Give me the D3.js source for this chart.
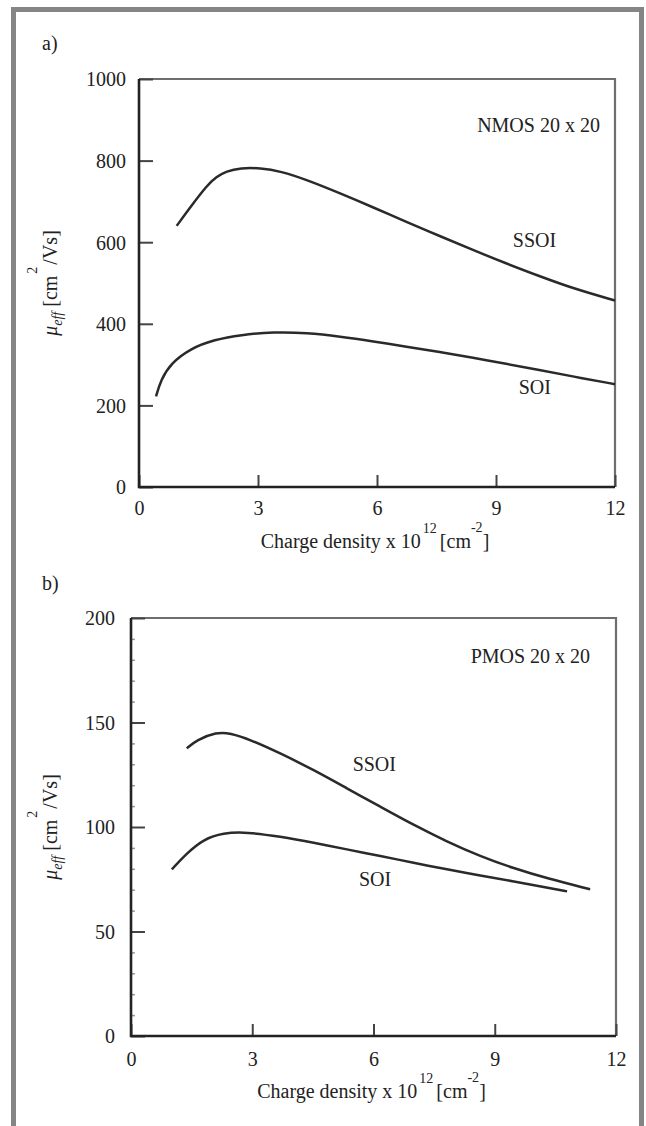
<!DOCTYPE html>
<meta charset="utf-8">
<style>
body { margin: 0; background: #fff; }
svg { display: block; }
text { font-family: "Liberation Serif", "Times New Roman", serif; fill: #222; }
.tick text { font-size: 20px; }
.tick line { stroke: #444; stroke-width: 2; }
.minor line { stroke: #999; stroke-width: 1.5; }
.curve { fill: none; stroke: #2a2a2a; stroke-width: 2.5; }
</style>
<svg width="646" height="1126"></svg>
<script src="https://d3js.org/d3.v7.min.js"></script>
<script>

// ticks
var xTicks = [0, 3, 6, 9, 12];
var nmosYTicks = [0, 200, 400, 600, 800, 1000];
var pmosYTicks = [0, 50, 100, 150, 200];
var pmosMinor = [10, 20, 30, 40, 60, 70, 80, 90, 110, 120, 130, 140, 160, 170, 180, 190];

// a) NMOS 20 x 20  [charge density, mobility]
var nmosSSOI = [[0.95, 640], [1.31, 688], [1.72, 740], [1.95, 760], [2.2, 774], [2.56, 782], [3.06, 782],
  [3.57, 774], [4.23, 753], [5.07, 720], [5.91, 685], [6.74, 650], [7.58, 615], [8.42, 581],
  [9.25, 548], [10.09, 517], [10.93, 487], [12.0, 457]];
var nmosSOI = [[0.43, 222], [0.55, 262], [0.80, 303], [1.31, 340], [1.90, 361], [2.56, 373],
  [3.40, 380], [4.23, 378], [5.07, 369], [5.91, 357], [6.74, 344], [7.58, 331], [8.42, 317],
  [9.25, 302], [10.09, 287], [10.93, 271], [12.0, 252]];

// b) PMOS 20 x 20
var pmosSSOI = [[1.38, 137.6], [1.62, 141.6], [2.12, 145.4], [2.45, 145.0], [2.95, 141.8],
  [3.69, 135.3], [4.52, 127.3], [5.34, 118.5], [6.17, 109.7], [6.99, 101.0], [7.82, 93.0],
  [8.64, 86.0], [9.47, 80.2], [10.30, 75.4], [11.36, 70.2]];
var pmosSOI = [[1.01, 79.7], [1.38, 87.4], [1.79, 94.1], [2.28, 97.2], [2.86, 97.6],
  [3.69, 95.4], [4.52, 92.5], [5.34, 89.3], [6.17, 86.1], [6.99, 82.9], [7.82, 79.7],
  [8.64, 76.8], [9.47, 74.0], [10.30, 71.0], [10.79, 69.2]];

var svg = d3.select("svg");

// outer frame (open at the bottom)
svg.append("path")
    .attr("d", "M13.5,1140 V9.5 H641.5 V1140")
    .attr("fill", "none")
    .attr("stroke", "#858585")
    .attr("stroke-width", 5);

function panel(opt) {
  var x = d3.scaleLinear().domain([0, 12]).range(opt.xr);
  var y = d3.scaleLinear().domain(opt.ydom).range(opt.yr);
  var g = svg.append("g");

  // top and right edges, lighter
  g.append("path")
      .attr("d", "M" + x(0) + "," + y.range()[1] + " H" + x(12) + " V" + y.range()[0])
      .attr("fill", "none").attr("stroke", "#6e6e6e").attr("stroke-width", 2.2);

  if (opt.minor) {
    g.append("g").attr("class", "minor")
        .attr("transform", "translate(" + x(0) + ",0)")
        .call(d3.axisLeft(y).tickValues(opt.minor).tickSize(-4).tickFormat(""))
        .call(function (s) { s.select(".domain").remove(); });
  }

  g.append("g")
      .attr("transform", "translate(0," + y(opt.ydom[0]) + ")")
      .call(d3.axisBottom(x).tickValues(xTicks).tickSize(-12).tickPadding(opt.xpad))
      .call(function (s) { s.select(".domain").remove(); });

  g.append("g")
      .attr("transform", "translate(" + x(0) + ",0)")
      .call(d3.axisLeft(y).tickValues(opt.yticks).tickFormat(d3.format("d"))
        .tickSize(-14).tickPadding(opt.ypad))
      .call(function (s) {
        s.select(".domain").remove();
        s.selectAll(".tick text").attr("dy", "0.34em");
      });

  // left and bottom edges, solid
  g.append("path")
      .attr("d", "M" + x(0) + "," + y.range()[1] + " V" + y.range()[0] + " H" + x(12))
      .attr("fill", "none").attr("stroke", "#222").attr("stroke-width", 2.6);

  var line = d3.line()
      .x(function (d) { return x(d[0]); })
      .y(function (d) { return y(d[1]); })
      .curve(d3.curveBasis);

  opt.series.forEach(function (s) {
    g.append("path").attr("class", "curve").attr("d", line(s));
  });

  opt.labels.forEach(function (l) {
    g.append("text")
        .attr("x", x(l[0])).attr("y", y(l[1]))
        .attr("text-anchor", l[3])
        .style("font-size", "20px")
        .text(l[2]);
  });

  // panel letter
  g.append("text").attr("x", 42).attr("y", opt.letterY)
      .style("font-size", "20px").text(opt.letter);

  // x title
  var xt = g.append("text")
      .attr("x", (x(0) + x(12)) / 2 - 2)
      .attr("y", opt.xtitleY)
      .attr("text-anchor", "middle")
      .style("font-size", "20px");
  xt.append("tspan").text("Charge density x 10");
  xt.append("tspan").attr("dy", -15).attr("dx", 2).style("font-size", "14px").text("12");
  xt.append("tspan").attr("dy", 15).attr("dx", 3).text("[cm");
  xt.append("tspan").attr("dy", -16).style("font-size", "14px").text("-2");
  xt.append("tspan").attr("dy", 16).text("]");

  // y title
  var cy = (y.range()[0] + y.range()[1]) / 2;
  var yt = g.append("text")
      .attr("transform", "translate(57," + cy + ") rotate(-90)")
      .attr("text-anchor", "middle")
      .style("font-size", "20px");
  yt.append("tspan").style("font-style", "italic").text("\u03bc");
  yt.append("tspan").attr("dy", 5).style("font-style", "italic").style("font-size", "14px").text("eff");
  yt.append("tspan").attr("dy", -5).text(" [cm");
  yt.append("tspan").attr("dy", -20).attr("dx", 2).style("font-size", "14px").text("2");
  yt.append("tspan").attr("dy", 20).attr("dx", 2).text("/Vs]");
}

panel({
  xr: [139, 615], ydom: [0, 1000], yr: [487, 79],
  yticks: nmosYTicks, xpad: 14, ypad: 13,
  series: [nmosSSOI, nmosSOI],
  labels: [[11.62, 870, "NMOS 20 x 20", "end"], [9.97, 588, "SSOI", "middle"], [9.98, 228, "SOI", "middle"]],
  letter: "a)", letterY: 50, xtitleY: 548
});

panel({
  xr: [131, 616], ydom: [0, 200], yr: [1036, 618],
  yticks: pmosYTicks, minor: pmosMinor, xpad: 16, ypad: 16,
  series: [pmosSSOI, pmosSOI],
  labels: [[11.36, 178.5, "PMOS 20 x 20", "end"], [6.02, 126.8, "SSOI", "middle"], [6.04, 71.8, "SOI", "middle"]],
  letter: "b)", letterY: 590, xtitleY: 1098
});

</script>
